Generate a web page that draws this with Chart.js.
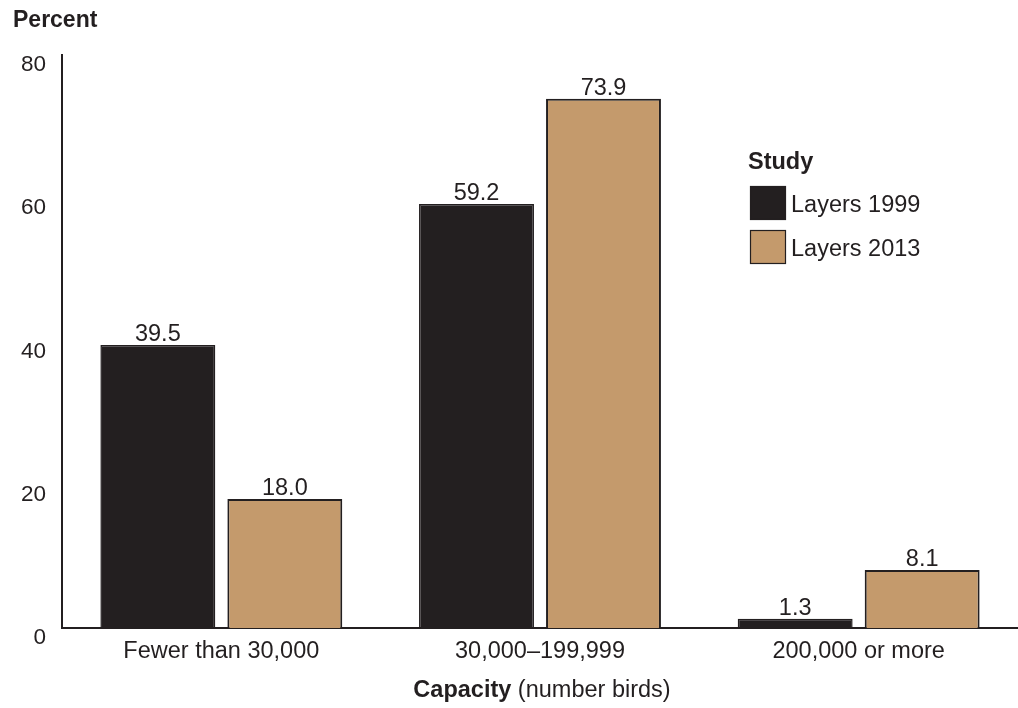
<!DOCTYPE html>
<html>
<head>
<meta charset="utf-8">
<script src="https://cdn.jsdelivr.net/npm/chart.js@4/dist/chart.umd.min.js"></script>
<style>
  html, body { margin: 0; padding: 0; background: #ffffff; }
  #wrap { width: 1018px; height: 708px; position: relative; }
</style>
</head>
<body>
<div id="wrap"><canvas id="c" width="1018" height="708"></canvas></div>
<script>
// Flock capacity categories and share of operations per study
const categories = ['Fewer than 30,000', '30,000\u2013199,999', '200,000 or more'];
const layers1999 = [39.5, 59.2, 1.3];
const layers2013 = [18.0, 73.9, 8.1];
const seriesNames = ['Layers 1999', 'Layers 2013'];
const yTicks = [0, 20, 40, 60, 80];

const INK = '#231f20';
const TAN = '#c49a6c';
const FONT = '"Liberation Sans", Arial, Helvetica, sans-serif';
const TEXT_SIZE = 23.5;

// Value labels above each bar
const valueLabels = {
  id: 'valueLabels',
  afterDatasetsDraw(chart) {
    const ctx = chart.ctx;
    ctx.save();
    ctx.font = TEXT_SIZE + 'px ' + FONT;
    ctx.fillStyle = INK;
    ctx.textAlign = 'center';
    ctx.textBaseline = 'alphabetic';
    chart.data.datasets.forEach((ds, i) => {
      chart.getDatasetMeta(i).data.forEach((bar, j) => {
        ctx.fillText(ds.data[j].toFixed(1), bar.x, bar.y - 4);
      });
    });
    ctx.restore();
  }
};

// Axis titles and the "Study" key
const annotations = {
  id: 'annotations',
  afterDraw(chart) {
    const ctx = chart.ctx;
    ctx.save();
    ctx.fillStyle = INK;
    ctx.textBaseline = 'middle';

    // y-axis title
    ctx.font = 'bold 23px ' + FONT;
    ctx.textAlign = 'left';
    ctx.fillText('Percent', 13, 21);

    // x-axis title, bold lead word followed by plain unit text
    const boldPart = 'Capacity';
    const plainPart = ' (number birds)';
    ctx.font = 'bold ' + TEXT_SIZE + 'px ' + FONT;
    const wb = ctx.measureText(boldPart).width;
    ctx.font = TEXT_SIZE + 'px ' + FONT;
    const wp = ctx.measureText(plainPart).width;
    const cx = chart.scales.x.getPixelForValue(1);
    const x0 = cx - (wb + wp) / 2 + 2;
    const ty = 691;
    ctx.font = 'bold ' + TEXT_SIZE + 'px ' + FONT;
    ctx.fillText(boldPart, x0, ty);
    ctx.font = TEXT_SIZE + 'px ' + FONT;
    ctx.fillText(plainPart, x0 + wb, ty);

    // legend
    ctx.font = 'bold ' + TEXT_SIZE + 'px ' + FONT;
    ctx.fillText('Study', 748, 163);
    ctx.font = TEXT_SIZE + 'px ' + FONT;
    chart.data.datasets.forEach((ds, i) => {
      const by = 186 + i * 44;
      ctx.fillStyle = ds.backgroundColor;
      ctx.fillRect(750, by, 36, 34);
      ctx.strokeStyle = INK;
      ctx.lineWidth = 1.2;
      ctx.strokeRect(750.5, by + 0.5, 35, 33);
      ctx.fillStyle = INK;
      ctx.fillText(ds.label, 791, by + 20);
    });
    ctx.restore();
  }
};

new Chart(document.getElementById('c'), {
  type: 'bar',
  data: {
    labels: categories,
    datasets: [
      { label: seriesNames[0], data: layers1999, backgroundColor: INK, borderColor: INK, borderWidth: 1.5 },
      { label: seriesNames[1], data: layers2013, backgroundColor: TAN, borderColor: INK, borderWidth: 2 }
    ]
  },
  options: {
    responsive: false,
    animation: false,
    devicePixelRatio: 1,
    categoryPercentage: 0.797,
    barPercentage: 0.905,
    layout: { padding: { top: 55, right: 0, left: 0, bottom: 0 } },
    plugins: {
      legend: { display: false },
      tooltip: { enabled: false }
    },
    scales: {
      x: {
        grid: { display: false, drawTicks: false },
        border: { display: true, color: INK, width: 2 },
        ticks: { color: INK, font: { family: FONT, size: TEXT_SIZE }, padding: 9, maxRotation: 0 },
        afterFit(scale) { scale.height = 80; }
      },
      y: {
        min: 0,
        max: 80,
        afterBuildTicks(scale) { scale.ticks = yTicks.map(v => ({ value: v })); },
        grid: { display: false, drawTicks: false },
        border: { display: true, color: INK, width: 2 },
        ticks: { color: INK, font: { family: FONT, size: 22.5 }, padding: 16, labelOffset: 10 },
        afterFit(scale) { scale.width = 62; }
      }
    }
  },
  plugins: [valueLabels, annotations]
});
</script>
</body>
</html>
